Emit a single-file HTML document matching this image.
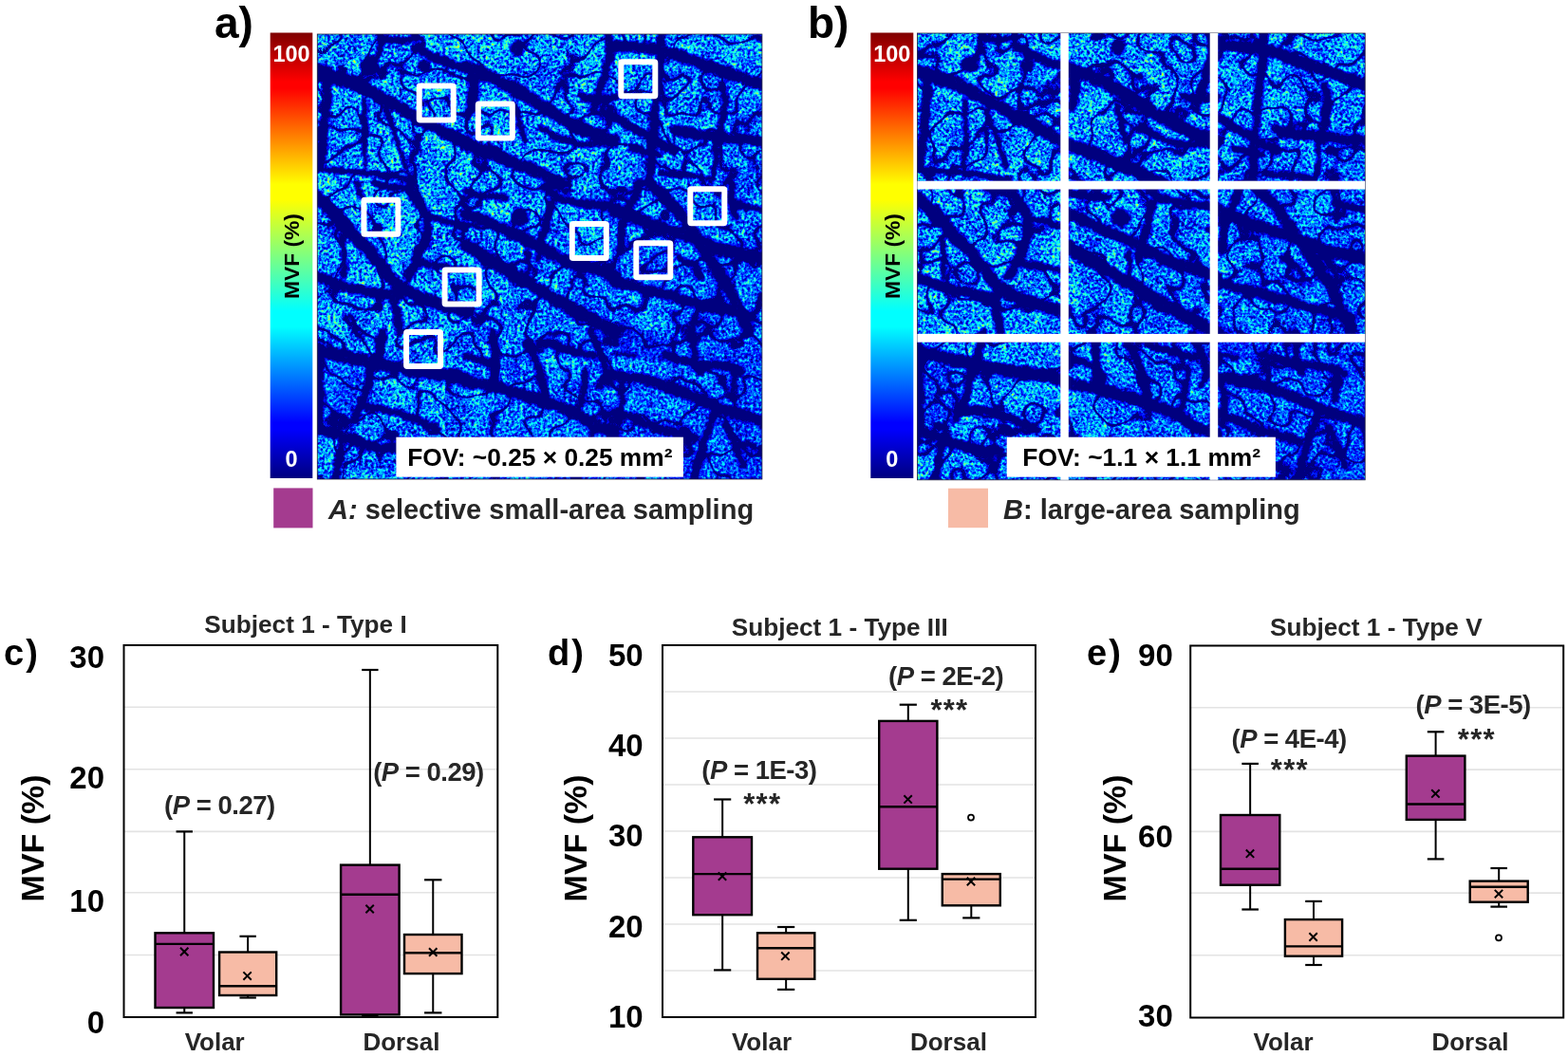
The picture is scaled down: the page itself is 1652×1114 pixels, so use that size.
<!DOCTYPE html>
<html><head><meta charset="utf-8"><title>MVF figure</title>
<style>
html,body{margin:0;padding:0;background:#fff;}
body{width:1652px;height:1114px;overflow:hidden;}
svg{display:block;}
text{font-family:"Liberation Sans",Arial,sans-serif;}
.b{font-weight:bold;}
</style></head><body>
<svg width="1652" height="1114" viewBox="0 0 1652 1114">
<defs>
<linearGradient id="jet" x1="0" y1="1" x2="0" y2="0">
<stop offset="0" stop-color="#00007f"/>
<stop offset="0.11" stop-color="#0000ff"/>
<stop offset="0.125" stop-color="#0000ff"/>
<stop offset="0.34" stop-color="#00ffff"/>
<stop offset="0.375" stop-color="#00ffff"/>
<stop offset="0.5" stop-color="#7fff7f"/>
<stop offset="0.625" stop-color="#ffff00"/>
<stop offset="0.66" stop-color="#ffff00"/>
<stop offset="0.875" stop-color="#ff0000"/>
<stop offset="0.89" stop-color="#ff0000"/>
<stop offset="1" stop-color="#7f0000"/>
</linearGradient>
</defs>
<rect width="1652" height="1114" fill="#fff"/>

<rect x="284.7" y="34.5" width="44.60000000000002" height="469.5" fill="url(#jet)"/>
<text class="b" x="307" y="64.5" font-size="23.5" fill="#fff" text-anchor="middle">100</text>
<text class="b" x="307" y="492.3" font-size="23.5" fill="#fff" text-anchor="middle">0</text>
<text class="b" font-size="22.8" fill="#000" text-anchor="middle" transform="translate(315.2,270) rotate(-90)">MVF (%)</text>
<rect x="917.3" y="34.5" width="45.0" height="469.5" fill="url(#jet)"/>
<text class="b" x="939.8" y="64.5" font-size="23.5" fill="#fff" text-anchor="middle">100</text>
<text class="b" x="939.8" y="492.3" font-size="23.5" fill="#fff" text-anchor="middle">0</text>
<text class="b" font-size="22.8" fill="#000" text-anchor="middle" transform="translate(947.8,270) rotate(-90)">MVF (%)</text>
<defs><filter id="spA" x="0" y="0" width="100%" height="100%" color-interpolation-filters="sRGB">
<feTurbulence type="fractalNoise" baseFrequency="0.08" numOctaves="2" seed="9" result="dt"/>
<feDisplacementMap in="SourceGraphic" in2="dt" scale="6" xChannelSelector="R" yChannelSelector="G" result="dm"/>
<feGaussianBlur in="dm" stdDeviation="1.8" result="bm"/>
<feGaussianBlur in="dm" stdDeviation="3.5" result="wm"/>
<feColorMatrix in="bm" type="matrix" values="-0.75 0 0 0 1  -0.75 0 0 0 1  -0.75 0 0 0 1  0 0 0 0 1" result="inv"/>
<feColorMatrix in="bm" type="matrix" values="-1 0 0 0 1  -1 0 0 0 1  -1 0 0 0 1  0 0 0 0 1" result="inv1"/>
<feColorMatrix in="wm" type="matrix" values="1 0 0 0 0  1 0 0 0 0  1 0 0 0 0  0 0 0 0 1" result="wmo"/>
<feComposite in="wmo" in2="inv1" operator="arithmetic" k1="1" k2="0" k3="0" k4="0" result="rim"/>
<feTurbulence type="fractalNoise" baseFrequency="0.33" numOctaves="2" seed="4" result="h"/>
<feColorMatrix in="h" type="matrix" values="1 0 0 0 0  1 0 0 0 0  1 0 0 0 0  0 0 0 0 1" result="hg"/>
<feTurbulence type="fractalNoise" baseFrequency="0.03" numOctaves="2" seed="15" result="l"/>
<feColorMatrix in="l" type="matrix" values="1 0 0 0 0  1 0 0 0 0  1 0 0 0 0  0 0 0 0 1" result="lg"/>
<feComposite in="hg" in2="lg" operator="arithmetic" k1="0" k2="1" k3="0.3" k4="-0.15" result="m1"/>
<feTurbulence type="fractalNoise" baseFrequency="0.025" numOctaves="2" seed="27" result="r"/>
<feColorMatrix in="r" type="matrix" values="1 0 0 0 0  1 0 0 0 0  1 0 0 0 0  0 0 0 0 1" result="rg"/>
<feComponentTransfer in="rg" result="ridge"><feFuncR type="table" tableValues="1 1 1 1 1 1 1 1 1 1 1 1 1 1 1 1 1 1 1 1 1 1 1 1 1 1 1 1 1 1 0.8 0.4 0.1 0.4 0.8 1 1 1 1 1 1 1 1 1 1 1 1 1 1 1 1 1 1 1 1 1 1 1 1 1 1 1 1 1 1"/><feFuncG type="table" tableValues="1 1 1 1 1 1 1 1 1 1 1 1 1 1 1 1 1 1 1 1 1 1 1 1 1 1 1 1 1 1 0.8 0.4 0.1 0.4 0.8 1 1 1 1 1 1 1 1 1 1 1 1 1 1 1 1 1 1 1 1 1 1 1 1 1 1 1 1 1 1"/><feFuncB type="table" tableValues="1 1 1 1 1 1 1 1 1 1 1 1 1 1 1 1 1 1 1 1 1 1 1 1 1 1 1 1 1 1 0.8 0.4 0.1 0.4 0.8 1 1 1 1 1 1 1 1 1 1 1 1 1 1 1 1 1 1 1 1 1 1 1 1 1 1 1 1 1 1"/><feFuncA type="linear" slope="0" intercept="1"/></feComponentTransfer>
<feComposite in="m1" in2="ridge" operator="arithmetic" k1="1" k2="0" k3="0" k4="0" result="m1d"/>
<feTurbulence type="fractalNoise" baseFrequency="0.06" numOctaves="2" seed="35" result="an"/>
<feColorMatrix in="an" type="matrix" values="1 0 0 0 0  1 0 0 0 0  1 0 0 0 0  0 0 0 0 1" result="ang"/>
<feComponentTransfer in="ang" result="arc"><feFuncR type="table" tableValues="0 0 0 0 0 0 0 0 0 0 0 0 0 0 0 0 0 0 0 0 0 0 0 0 0 0 0 0 0 0 0.3 0.8 1 0.8 0.3 0 0 0 0 0 0 0 0 0 0 0 0 0 0 0 0 0 0 0 0 0 0 0 0 0 0 0 0 0 0"/><feFuncG type="table" tableValues="0 0 0 0 0 0 0 0 0 0 0 0 0 0 0 0 0 0 0 0 0 0 0 0 0 0 0 0 0 0 0.3 0.8 1 0.8 0.3 0 0 0 0 0 0 0 0 0 0 0 0 0 0 0 0 0 0 0 0 0 0 0 0 0 0 0 0 0 0"/><feFuncB type="table" tableValues="0 0 0 0 0 0 0 0 0 0 0 0 0 0 0 0 0 0 0 0 0 0 0 0 0 0 0 0 0 0 0.3 0.8 1 0.8 0.3 0 0 0 0 0 0 0 0 0 0 0 0 0 0 0 0 0 0 0 0 0 0 0 0 0 0 0 0 0 0"/><feFuncA type="linear" slope="0" intercept="1"/></feComponentTransfer>
<feComposite in="m1d" in2="arc" operator="arithmetic" k1="0" k2="1" k3="0.14" k4="0" result="m1e"/>
<feComposite in="m1e" in2="rim" operator="arithmetic" k1="0" k2="1" k3="0.15" k4="0" result="m1r"/>
<feComposite in="m1r" in2="inv" operator="arithmetic" k1="1" k2="0" k3="0" k4="0" result="m2"/>
<feComponentTransfer in="m2">
<feFuncR type="table" tableValues="0 0 0 0 0 0 0 0 0 0 0 0 0 0 0 0 0 0 0 0 0 0 0 0 0 0 0 0 0 0 0 0 0 0 0 0 0 0 0 0 0 0 0 0.01 0.06 0.11 0.16 0.21 0.26 0.31 0.36 0.41 0.46 0.51 0.56 0.61 0.66 0.71 0.76 0.81 0.86 0.91 0.96 1 1"/>
<feFuncG type="table" tableValues="0 0 0 0 0 0 0 0 0 0 0 0 0 0 0 0 0 0 0 0 0 0 0 0.01 0.06 0.11 0.16 0.21 0.26 0.31 0.36 0.41 0.46 0.51 0.56 0.61 0.66 0.71 0.76 0.81 0.86 0.91 0.96 1 1 1 1 1 1 1 1 1 1 1 1 1 1 1 1 1 1 1 1 0.99 0.94"/>
<feFuncB type="table" tableValues="0.5 0.5 0.5 0.5 0.5 0.5 0.5 0.5 0.5 0.5 0.5 0.5 0.5 0.51 0.56 0.61 0.66 0.71 0.76 0.81 0.86 0.91 0.96 1 1 1 1 1 1 1 1 1 1 1 1 1 1 1 1 1 1 1 1 0.99 0.94 0.89 0.84 0.79 0.74 0.69 0.64 0.59 0.54 0.49 0.44 0.39 0.34 0.29 0.24 0.19 0.14 0.09 0.04 0 0"/>
<feFuncA type="linear" slope="0" intercept="1"/>
</feComponentTransfer>
</filter><filter id="spB" x="0" y="0" width="100%" height="100%" color-interpolation-filters="sRGB">
<feTurbulence type="fractalNoise" baseFrequency="0.08" numOctaves="2" seed="26" result="dt"/>
<feDisplacementMap in="SourceGraphic" in2="dt" scale="6" xChannelSelector="R" yChannelSelector="G" result="dm"/>
<feGaussianBlur in="dm" stdDeviation="1.8" result="bm"/>
<feGaussianBlur in="dm" stdDeviation="3.5" result="wm"/>
<feColorMatrix in="bm" type="matrix" values="-0.75 0 0 0 1  -0.75 0 0 0 1  -0.75 0 0 0 1  0 0 0 0 1" result="inv"/>
<feColorMatrix in="bm" type="matrix" values="-1 0 0 0 1  -1 0 0 0 1  -1 0 0 0 1  0 0 0 0 1" result="inv1"/>
<feColorMatrix in="wm" type="matrix" values="1 0 0 0 0  1 0 0 0 0  1 0 0 0 0  0 0 0 0 1" result="wmo"/>
<feComposite in="wmo" in2="inv1" operator="arithmetic" k1="1" k2="0" k3="0" k4="0" result="rim"/>
<feTurbulence type="fractalNoise" baseFrequency="0.33" numOctaves="2" seed="21" result="h"/>
<feColorMatrix in="h" type="matrix" values="1 0 0 0 0  1 0 0 0 0  1 0 0 0 0  0 0 0 0 1" result="hg"/>
<feTurbulence type="fractalNoise" baseFrequency="0.03" numOctaves="2" seed="32" result="l"/>
<feColorMatrix in="l" type="matrix" values="1 0 0 0 0  1 0 0 0 0  1 0 0 0 0  0 0 0 0 1" result="lg"/>
<feComposite in="hg" in2="lg" operator="arithmetic" k1="0" k2="1" k3="0.3" k4="-0.15" result="m1"/>
<feTurbulence type="fractalNoise" baseFrequency="0.025" numOctaves="2" seed="44" result="r"/>
<feColorMatrix in="r" type="matrix" values="1 0 0 0 0  1 0 0 0 0  1 0 0 0 0  0 0 0 0 1" result="rg"/>
<feComponentTransfer in="rg" result="ridge"><feFuncR type="table" tableValues="1 1 1 1 1 1 1 1 1 1 1 1 1 1 1 1 1 1 1 1 1 1 1 1 1 1 1 1 1 1 0.8 0.4 0.1 0.4 0.8 1 1 1 1 1 1 1 1 1 1 1 1 1 1 1 1 1 1 1 1 1 1 1 1 1 1 1 1 1 1"/><feFuncG type="table" tableValues="1 1 1 1 1 1 1 1 1 1 1 1 1 1 1 1 1 1 1 1 1 1 1 1 1 1 1 1 1 1 0.8 0.4 0.1 0.4 0.8 1 1 1 1 1 1 1 1 1 1 1 1 1 1 1 1 1 1 1 1 1 1 1 1 1 1 1 1 1 1"/><feFuncB type="table" tableValues="1 1 1 1 1 1 1 1 1 1 1 1 1 1 1 1 1 1 1 1 1 1 1 1 1 1 1 1 1 1 0.8 0.4 0.1 0.4 0.8 1 1 1 1 1 1 1 1 1 1 1 1 1 1 1 1 1 1 1 1 1 1 1 1 1 1 1 1 1 1"/><feFuncA type="linear" slope="0" intercept="1"/></feComponentTransfer>
<feComposite in="m1" in2="ridge" operator="arithmetic" k1="1" k2="0" k3="0" k4="0" result="m1d"/>
<feTurbulence type="fractalNoise" baseFrequency="0.06" numOctaves="2" seed="52" result="an"/>
<feColorMatrix in="an" type="matrix" values="1 0 0 0 0  1 0 0 0 0  1 0 0 0 0  0 0 0 0 1" result="ang"/>
<feComponentTransfer in="ang" result="arc"><feFuncR type="table" tableValues="0 0 0 0 0 0 0 0 0 0 0 0 0 0 0 0 0 0 0 0 0 0 0 0 0 0 0 0 0 0 0.3 0.8 1 0.8 0.3 0 0 0 0 0 0 0 0 0 0 0 0 0 0 0 0 0 0 0 0 0 0 0 0 0 0 0 0 0 0"/><feFuncG type="table" tableValues="0 0 0 0 0 0 0 0 0 0 0 0 0 0 0 0 0 0 0 0 0 0 0 0 0 0 0 0 0 0 0.3 0.8 1 0.8 0.3 0 0 0 0 0 0 0 0 0 0 0 0 0 0 0 0 0 0 0 0 0 0 0 0 0 0 0 0 0 0"/><feFuncB type="table" tableValues="0 0 0 0 0 0 0 0 0 0 0 0 0 0 0 0 0 0 0 0 0 0 0 0 0 0 0 0 0 0 0.3 0.8 1 0.8 0.3 0 0 0 0 0 0 0 0 0 0 0 0 0 0 0 0 0 0 0 0 0 0 0 0 0 0 0 0 0 0"/><feFuncA type="linear" slope="0" intercept="1"/></feComponentTransfer>
<feComposite in="m1d" in2="arc" operator="arithmetic" k1="0" k2="1" k3="0.14" k4="0" result="m1e"/>
<feComposite in="m1e" in2="rim" operator="arithmetic" k1="0" k2="1" k3="0.15" k4="0" result="m1r"/>
<feComposite in="m1r" in2="inv" operator="arithmetic" k1="1" k2="0" k3="0" k4="0" result="m2"/>
<feComponentTransfer in="m2">
<feFuncR type="table" tableValues="0 0 0 0 0 0 0 0 0 0 0 0 0 0 0 0 0 0 0 0 0 0 0 0 0 0 0 0 0 0 0 0 0 0 0 0 0 0 0 0 0 0 0 0.01 0.06 0.11 0.16 0.21 0.26 0.31 0.36 0.41 0.46 0.51 0.56 0.61 0.66 0.71 0.76 0.81 0.86 0.91 0.96 1 1"/>
<feFuncG type="table" tableValues="0 0 0 0 0 0 0 0 0 0 0 0 0 0 0 0 0 0 0 0 0 0 0 0.01 0.06 0.11 0.16 0.21 0.26 0.31 0.36 0.41 0.46 0.51 0.56 0.61 0.66 0.71 0.76 0.81 0.86 0.91 0.96 1 1 1 1 1 1 1 1 1 1 1 1 1 1 1 1 1 1 1 1 0.99 0.94"/>
<feFuncB type="table" tableValues="0.5 0.5 0.5 0.5 0.5 0.5 0.5 0.5 0.5 0.5 0.5 0.5 0.5 0.51 0.56 0.61 0.66 0.71 0.76 0.81 0.86 0.91 0.96 1 1 1 1 1 1 1 1 1 1 1 1 1 1 1 1 1 1 1 1 0.99 0.94 0.89 0.84 0.79 0.74 0.69 0.64 0.59 0.54 0.49 0.44 0.39 0.34 0.29 0.24 0.19 0.14 0.09 0.04 0 0"/>
<feFuncA type="linear" slope="0" intercept="1"/>
</feComponentTransfer>
</filter><linearGradient id="dimgrad" x1="0" y1="0" x2="1" y2="1"><stop offset="0" stop-color="#000"/><stop offset="0.35" stop-color="#000"/><stop offset="1" stop-color="#555"/></linearGradient></defs>
<clipPath id="clA"><rect x="334.3" y="36" width="468.6" height="469"/></clipPath>
<g clip-path="url(#clA)"><g filter="url(#spA)">
<rect x="334.3" y="36" width="468.6" height="469" fill="#000"/>
<g transform="translate(334.3,36)">
<rect x="0" y="0" width="468.6" height="469" fill="url(#dimgrad)"/>
<ellipse cx="335.0" cy="325.0" rx="48.0" ry="15.0" transform="rotate(22 335.0 325.0)" fill="rgb(102,102,102)"/>
<ellipse cx="26.0" cy="380.0" rx="22.0" ry="36.0" transform="rotate(0 26.0 380.0)" fill="rgb(76,76,76)"/>
<g fill="none" stroke="#fff" stroke-linecap="round" stroke-linejoin="round">
<polyline points="0.0,39.4 21.1,46.5 42.3,53.5 59.2,62.0" stroke-width="15.5"/>
<polyline points="59.2,62.0 73.2,70.4 90.1,78.9 107.0,90.1 126.8,98.6 140.8,107.0 156.9,115.5" stroke-width="13.2"/>
<polyline points="11.3,46.5 9.9,70.4 7.0,98.6 4.2,126.8 2.8,140.8" stroke-width="10.1"/>
<polyline points="49.3,70.4 50.7,98.6 49.3,140.8" stroke-width="5.4"/>
<polyline points="73.2,80.3 84.5,112.7 93.0,140.8" stroke-width="5.4"/>
<polyline points="0.0,142.3 42.3,145.8 70.4,149.3 98.6,153.5" stroke-width="6.2"/>
<polyline points="66.2,0.0 65.5,21.1 60.6,28.2" stroke-width="6.2"/>
<polyline points="70.4,5.6 87.3,7.0 104.2,4.2" stroke-width="7.0"/>
<polyline points="104.2,14.1 122.5,23.9 140.8,31.0 156.9,36.6" stroke-width="10.1"/>
<polyline points="156.7,35.2 184.8,46.5 213.0,60.6 241.2,78.9 269.3,95.8 297.5,107.0 313.6,112.7" stroke-width="13.9"/>
<polyline points="156.7,115.5 184.8,126.8 213.0,138.0 241.2,149.3 255.3,156.9" stroke-width="13.9"/>
<polyline points="163.7,35.2 165.1,56.3 162.3,78.9" stroke-width="10.8"/>
<polyline points="208.8,73.2 213.0,93.0 218.6,112.7" stroke-width="6.2"/>
<polyline points="306.0,0.0 308.8,21.1 303.1,42.3 296.1,63.4 291.9,78.9" stroke-width="9.3"/>
<polyline points="279.2,66.2 297.5,69.0 313.6,66.2" stroke-width="9.3"/>
<polyline points="235.5,98.6 255.3,109.9 276.4,116.9 297.5,115.5 313.6,115.5" stroke-width="7.7"/>
<polyline points="313.3,12.7 341.5,14.1 359.8,15.5 383.8,23.9 411.9,33.8 440.1,43.7 470.2,53.5" stroke-width="12.4"/>
<polyline points="362.6,0.0 361.2,28.2 358.4,56.3 355.6,84.5 352.8,112.7 351.4,140.8 349.9,156.9" stroke-width="9.3"/>
<polyline points="313.3,87.3 341.5,104.2 359.8,114.1 376.7,123.9" stroke-width="9.3"/>
<polyline points="376.7,101.4 397.8,105.6 411.9,107.0 433.0,109.9 454.2,111.3 470.2,112.7" stroke-width="10.8"/>
<polyline points="426.0,53.5 430.2,70.4 426.0,91.5 423.2,112.7" stroke-width="8.5"/>
<polyline points="419.0,112.7 420.4,126.8 416.1,156.9" stroke-width="5.4"/>
<polyline points="362.6,146.5 383.8,147.9 411.9,152.1" stroke-width="7.0"/>
<polyline points="331.6,121.1 359.8,126.8" stroke-width="7.7"/>
<polyline points="0.0,170.8 21.1,191.9 39.4,213.0 56.3,229.9 70.4,248.2 84.5,265.1 98.6,273.6 112.7,279.2 133.8,286.2 156.9,291.9" stroke-width="13.9"/>
<polyline points="0.0,255.3 21.1,263.7 42.3,269.3 63.4,273.6 84.5,276.4" stroke-width="10.8"/>
<polyline points="42.3,156.7 46.5,170.8" stroke-width="7.0"/>
<polyline points="60.6,156.7 77.5,162.3 98.6,160.9" stroke-width="7.0"/>
<polyline points="98.6,163.7 115.5,191.9 115.5,213.0 105.6,235.5 95.8,255.3" stroke-width="10.8"/>
<polyline points="116.9,193.3 133.8,196.1 156.9,203.1" stroke-width="7.0"/>
<polyline points="102.8,239.8 126.8,244.0 140.8,246.8 156.9,246.8" stroke-width="7.7"/>
<polyline points="26.8,213.0 28.2,234.1 28.2,255.3" stroke-width="6.2"/>
<polyline points="78.9,273.6 84.5,297.5 87.3,313.6" stroke-width="9.3"/>
<polyline points="156.7,189.1 177.8,197.5 198.9,207.4 220.1,217.2 235.5,224.3 255.3,235.5 269.3,241.2 290.5,246.8 313.6,255.3" stroke-width="12.4"/>
<polyline points="156.7,222.9 177.8,235.5 198.9,248.2 220.1,260.9 241.2,273.6 262.3,286.2 283.4,297.5 304.6,308.8 313.6,313.6" stroke-width="13.9"/>
<polyline points="156.7,166.5 177.8,170.8 198.9,172.2" stroke-width="7.7"/>
<polyline points="241.2,162.3 255.3,173.6 283.4,179.2 313.6,182.0" stroke-width="9.3"/>
<polyline points="246.8,177.8 241.2,198.9 235.5,220.1 232.7,235.5" stroke-width="9.3"/>
<polyline points="221.5,229.9 222.9,248.2 220.1,262.3" stroke-width="6.2"/>
<polyline points="348.5,156.7 362.3,167.7 377.3,183.7 390.4,201.7 404.3,221.6 418.3,244.7 433.0,266.5 442.9,286.2 451.4,304.6 454.2,313.6" stroke-width="12.4"/>
<polyline points="313.3,186.2 341.5,196.1 369.7,206.0 400.7,217.2 426.0,227.1 454.2,232.7 470.2,235.5" stroke-width="12.4"/>
<polyline points="338.7,156.7 334.5,170.8 327.4,184.8 321.8,198.9 319.0,227.1" stroke-width="9.3"/>
<polyline points="313.3,260.9 341.5,267.9 369.7,275.0 397.8,283.4 426.0,290.5 454.2,297.5" stroke-width="10.8"/>
<polyline points="380.9,235.5 397.8,244.0 403.5,255.3" stroke-width="7.0"/>
<polyline points="435.9,156.7 437.3,177.8 440.1,191.9" stroke-width="7.7"/>
<polyline points="435.9,177.8 454.2,182.0 470.2,184.8" stroke-width="7.7"/>
<polyline points="0.0,334.5 21.1,337.3 42.3,342.9 63.4,347.1 77.5,349.9 98.6,354.2 119.7,357.0 140.8,359.8 156.9,364.0" stroke-width="13.9"/>
<polyline points="69.0,313.3 64.8,334.5 56.3,355.6 52.1,376.7 46.5,390.8 39.4,404.9" stroke-width="9.3"/>
<polyline points="0.0,414.7 14.1,420.4 28.2,424.6 42.3,430.2 63.4,435.9 84.5,437.3" stroke-width="10.8"/>
<polyline points="46.5,393.6 70.4,395.0 98.6,403.5 126.8,416.1" stroke-width="8.5"/>
<polyline points="26.8,423.2 23.9,440.1 21.1,454.2 19.7,470.2" stroke-width="9.3"/>
<polyline points="2.8,327.4 2.8,369.7 2.8,419.0" stroke-width="7.7"/>
<polyline points="156.7,366.9 177.8,369.7 198.9,375.3 220.1,380.9 241.2,388.0 262.3,395.0 276.4,402.1 290.5,411.9 304.6,417.6 313.6,420.4" stroke-width="12.4"/>
<polyline points="184.8,313.3 187.7,341.5 186.2,369.7" stroke-width="9.3"/>
<polyline points="156.7,338.7 184.8,348.5" stroke-width="7.7"/>
<polyline points="220.1,324.6 229.9,341.5 235.5,359.8 241.2,380.9" stroke-width="9.3"/>
<polyline points="238.4,324.6 269.3,334.5 290.5,338.7" stroke-width="7.7"/>
<polyline points="287.7,313.3 297.5,334.5 304.6,355.6 297.5,369.7" stroke-width="7.7"/>
<polyline points="283.4,355.6 280.6,376.7 276.4,392.2" stroke-width="7.0"/>
<polyline points="313.3,359.8 341.5,362.6 369.7,372.5 390.8,379.5 411.9,389.4 433.0,397.8 454.2,403.5 470.2,409.1" stroke-width="11.6"/>
<polyline points="313.3,335.9 334.5,340.1" stroke-width="4.6"/>
<polyline points="395.0,313.3 397.8,341.5 403.5,355.6" stroke-width="7.7"/>
<polyline points="433.0,348.5 440.1,362.6 437.3,383.8" stroke-width="7.0"/>
<polyline points="313.3,397.8 334.5,404.9 355.6,414.7 376.7,420.4 397.8,426.0" stroke-width="9.3"/>
<polyline points="417.6,400.7 409.1,426.0 400.7,454.2 396.4,470.2" stroke-width="8.5"/>
<polyline points="430.2,411.9 440.1,433.0 448.5,454.2" stroke-width="7.0"/>
<polyline points="366.9,338.7 397.8,347.1 426.0,348.5 447.1,355.6" stroke-width="9.3"/>
<polyline points="319.0,366.9 321.8,386.6 319.0,409.1" stroke-width="7.7"/>
</g><g fill="#fff">
<circle cx="54.9" cy="32.4" r="9.2"/>
<circle cx="114.1" cy="33.8" r="7.0"/>
<circle cx="210.2" cy="15.5" r="7.7"/>
<circle cx="213.0" cy="193.3" r="9.9"/>
</g></g></g></g>
<clipPath id="clB"><rect x="966.4" y="35" width="471.8" height="470.8"/></clipPath>
<g clip-path="url(#clB)"><g filter="url(#spB)">
<rect x="966.4" y="35" width="471.8" height="470.8" fill="#000"/>
<g transform="translate(966.4,35)">
<rect x="0" y="0" width="471.8" height="470.8" fill="url(#dimgrad)"/>
<ellipse cx="337.3" cy="327.2" rx="48.3" ry="15.1" transform="rotate(22 337.3 327.2)" fill="rgb(102,102,102)"/>
<ellipse cx="26.2" cy="382.6" rx="22.2" ry="36.2" transform="rotate(0 26.2 382.6)" fill="rgb(76,76,76)"/>
<g fill="none" stroke="#fff" stroke-linecap="round" stroke-linejoin="round">
<polyline points="0.0,39.7 21.3,46.8 42.5,53.9 59.6,62.4" stroke-width="15.6"/>
<polyline points="59.6,62.4 73.7,70.9 90.8,79.4 107.8,90.8 127.6,99.3 141.8,107.8 158.0,116.3" stroke-width="13.3"/>
<polyline points="11.3,46.8 9.9,70.9 7.1,99.3 4.3,127.6 2.8,141.8" stroke-width="10.1"/>
<polyline points="49.6,70.9 51.1,99.3 49.6,141.8" stroke-width="5.5"/>
<polyline points="73.7,80.8 85.1,113.4 93.6,141.8" stroke-width="5.5"/>
<polyline points="0.0,143.2 42.5,146.8 70.9,150.3 99.3,154.6" stroke-width="6.2"/>
<polyline points="66.6,0.0 65.9,21.3 61.0,28.4" stroke-width="6.2"/>
<polyline points="70.9,5.7 87.9,7.1 104.9,4.3" stroke-width="7.0"/>
<polyline points="104.9,14.2 123.4,24.1 141.8,31.2 158.0,36.9" stroke-width="10.1"/>
<polyline points="157.7,35.5 186.1,46.8 214.5,61.0 242.8,79.4 271.2,96.4 299.5,107.8 315.7,113.4" stroke-width="14.0"/>
<polyline points="157.7,116.3 186.1,127.6 214.5,139.0 242.8,150.3 257.0,158.0" stroke-width="14.0"/>
<polyline points="164.8,35.5 166.2,56.7 163.4,79.4" stroke-width="10.9"/>
<polyline points="210.2,73.7 214.5,93.6 220.1,113.4" stroke-width="6.2"/>
<polyline points="308.1,0.0 310.9,21.3 305.2,42.5 298.1,63.8 293.9,79.4" stroke-width="9.4"/>
<polyline points="281.1,66.6 299.5,69.5 315.7,66.6" stroke-width="9.4"/>
<polyline points="237.2,99.3 257.0,110.6 278.3,117.7 299.5,116.3 315.7,116.3" stroke-width="7.8"/>
<polyline points="315.5,12.8 343.8,14.2 362.3,15.6 386.4,24.1 414.7,34.0 443.1,44.0 473.4,53.9" stroke-width="12.5"/>
<polyline points="365.1,0.0 363.7,28.4 360.8,56.7 358.0,85.1 355.2,113.4 353.8,141.8 352.3,158.0" stroke-width="9.4"/>
<polyline points="315.5,87.9 343.8,104.9 362.3,114.9 379.3,124.8" stroke-width="9.4"/>
<polyline points="379.3,102.1 400.6,106.4 414.7,107.8 436.0,110.6 457.3,112.0 473.4,113.4" stroke-width="10.9"/>
<polyline points="428.9,53.9 433.2,70.9 428.9,92.2 426.1,113.4" stroke-width="8.6"/>
<polyline points="421.8,113.4 423.2,127.6 419.0,158.0" stroke-width="5.5"/>
<polyline points="365.1,147.5 386.4,148.9 414.7,153.2" stroke-width="7.0"/>
<polyline points="333.9,122.0 362.3,127.6" stroke-width="7.8"/>
<polyline points="0.0,171.9 21.3,193.2 39.7,214.5 56.7,231.5 70.9,249.9 85.1,266.9 99.3,275.4 113.4,281.1 134.7,288.2 158.0,293.9" stroke-width="14.0"/>
<polyline points="0.0,257.0 21.3,265.5 42.5,271.2 63.8,275.4 85.1,278.3" stroke-width="10.9"/>
<polyline points="42.5,157.7 46.8,171.9" stroke-width="7.0"/>
<polyline points="61.0,157.7 78.0,163.4 99.3,162.0" stroke-width="7.0"/>
<polyline points="99.3,164.8 116.3,193.2 116.3,214.5 106.4,237.2 96.4,257.0" stroke-width="10.9"/>
<polyline points="117.7,194.6 134.7,197.4 158.0,204.5" stroke-width="7.0"/>
<polyline points="103.5,241.4 127.6,245.7 141.8,248.5 158.0,248.5" stroke-width="7.8"/>
<polyline points="26.9,214.5 28.4,235.7 28.4,257.0" stroke-width="6.2"/>
<polyline points="79.4,275.4 85.1,299.5 87.9,315.7" stroke-width="9.4"/>
<polyline points="157.7,190.4 179.0,198.9 200.3,208.8 221.6,218.7 237.2,225.8 257.0,237.2 271.2,242.8 292.5,248.5 315.7,257.0" stroke-width="12.5"/>
<polyline points="157.7,224.4 179.0,237.2 200.3,249.9 221.6,262.7 242.8,275.4 264.1,288.2 285.4,299.5 306.6,310.9 315.7,315.7" stroke-width="14.0"/>
<polyline points="157.7,167.7 179.0,171.9 200.3,173.3" stroke-width="7.8"/>
<polyline points="242.8,163.4 257.0,174.8 285.4,180.4 315.7,183.3" stroke-width="9.4"/>
<polyline points="248.5,179.0 242.8,200.3 237.2,221.6 234.3,237.2" stroke-width="9.4"/>
<polyline points="223.0,231.5 224.4,249.9 221.6,264.1" stroke-width="6.2"/>
<polyline points="350.9,157.7 364.8,168.8 379.9,185.0 393.0,203.1 407.1,223.1 421.1,246.4 436.0,268.3 445.9,288.2 454.4,306.6 457.3,315.7" stroke-width="12.5"/>
<polyline points="315.5,187.5 343.8,197.4 372.2,207.4 403.4,218.7 428.9,228.6 457.3,234.3 473.4,237.2" stroke-width="12.5"/>
<polyline points="341.0,157.7 336.7,171.9 329.7,186.1 324.0,200.3 321.1,228.6" stroke-width="9.4"/>
<polyline points="315.5,262.7 343.8,269.8 372.2,276.9 400.6,285.4 428.9,292.5 457.3,299.5" stroke-width="10.9"/>
<polyline points="383.5,237.2 400.6,245.7 406.2,257.0" stroke-width="7.0"/>
<polyline points="438.8,157.7 440.3,179.0 443.1,193.2" stroke-width="7.8"/>
<polyline points="438.8,179.0 457.3,183.3 473.4,186.1" stroke-width="7.8"/>
<polyline points="0.0,336.7 21.3,339.6 42.5,345.2 63.8,349.5 78.0,352.3 99.3,356.6 120.5,359.4 141.8,362.3 158.0,366.5" stroke-width="14.0"/>
<polyline points="69.5,315.5 65.2,336.7 56.7,358.0 52.5,379.3 46.8,393.5 39.7,407.6" stroke-width="9.4"/>
<polyline points="0.0,417.6 14.2,423.2 28.4,427.5 42.5,433.2 63.8,438.8 85.1,440.3" stroke-width="10.9"/>
<polyline points="46.8,396.3 70.9,397.7 99.3,406.2 127.6,419.0" stroke-width="8.6"/>
<polyline points="26.9,426.1 24.1,443.1 21.3,457.3 19.9,473.4" stroke-width="9.4"/>
<polyline points="2.8,329.7 2.8,372.2 2.8,421.8" stroke-width="7.8"/>
<polyline points="157.7,369.4 179.0,372.2 200.3,377.9 221.6,383.5 242.8,390.6 264.1,397.7 278.3,404.8 292.5,414.7 306.6,420.4 315.7,423.2" stroke-width="12.5"/>
<polyline points="186.1,315.5 188.9,343.8 187.5,372.2" stroke-width="9.4"/>
<polyline points="157.7,341.0 186.1,350.9" stroke-width="7.8"/>
<polyline points="221.6,326.8 231.5,343.8 237.2,362.3 242.8,383.5" stroke-width="9.4"/>
<polyline points="240.0,326.8 271.2,336.7 292.5,341.0" stroke-width="7.8"/>
<polyline points="289.6,315.5 299.5,336.7 306.6,358.0 299.5,372.2" stroke-width="7.8"/>
<polyline points="285.4,358.0 282.5,379.3 278.3,394.9" stroke-width="7.0"/>
<polyline points="315.5,362.3 343.8,365.1 372.2,375.0 393.5,382.1 414.7,392.0 436.0,400.6 457.3,406.2 473.4,411.9" stroke-width="11.7"/>
<polyline points="315.5,338.2 336.7,342.4" stroke-width="4.7"/>
<polyline points="397.7,315.5 400.6,343.8 406.2,358.0" stroke-width="7.8"/>
<polyline points="436.0,350.9 443.1,365.1 440.3,386.4" stroke-width="7.0"/>
<polyline points="315.5,400.6 336.7,407.6 358.0,417.6 379.3,423.2 400.6,428.9" stroke-width="9.4"/>
<polyline points="420.4,403.4 411.9,428.9 403.4,457.3 399.1,473.4" stroke-width="8.6"/>
<polyline points="433.2,414.7 443.1,436.0 451.6,457.3" stroke-width="7.0"/>
<polyline points="369.4,341.0 400.6,349.5 428.9,350.9 450.2,358.0" stroke-width="9.4"/>
<polyline points="321.1,369.4 324.0,389.2 321.1,411.9" stroke-width="7.8"/>
</g><g fill="#fff">
<circle cx="55.3" cy="32.6" r="9.2"/>
<circle cx="114.9" cy="34.0" r="7.1"/>
<circle cx="211.6" cy="15.6" r="7.8"/>
<circle cx="214.5" cy="194.6" r="9.9"/>
</g></g></g></g>
<rect x="334.3" y="36" width="468.6" height="469" fill="none" stroke="#1a1a3a" stroke-width="0.8"/>
<rect x="966.4" y="35" width="471.8" height="470.8" fill="none" stroke="#1a1a3a" stroke-width="0.8"/>
<rect x="441.7" y="90.6" width="36" height="36" rx="1" fill="none" stroke="#fff" stroke-width="6" stroke-linejoin="round"/>
<rect x="503.8" y="109.5" width="36" height="36" rx="1" fill="none" stroke="#fff" stroke-width="6" stroke-linejoin="round"/>
<rect x="654.3" y="65.2" width="36" height="36" rx="1" fill="none" stroke="#fff" stroke-width="6" stroke-linejoin="round"/>
<rect x="383.4" y="210.7" width="36" height="36" rx="1" fill="none" stroke="#fff" stroke-width="6" stroke-linejoin="round"/>
<rect x="727.3" y="199.3" width="36" height="36" rx="1" fill="none" stroke="#fff" stroke-width="6" stroke-linejoin="round"/>
<rect x="602.8" y="236.0" width="36" height="36" rx="1" fill="none" stroke="#fff" stroke-width="6" stroke-linejoin="round"/>
<rect x="670.3" y="256.3" width="36" height="36" rx="1" fill="none" stroke="#fff" stroke-width="6" stroke-linejoin="round"/>
<rect x="468.6" y="284.6" width="36" height="36" rx="1" fill="none" stroke="#fff" stroke-width="6" stroke-linejoin="round"/>
<rect x="428.1" y="350.0" width="36" height="36" rx="1" fill="none" stroke="#fff" stroke-width="6" stroke-linejoin="round"/>
<rect x="1117.3" y="35" width="8.5" height="470.8" fill="#fff"/>
<rect x="1274.7" y="35" width="8.5" height="470.8" fill="#fff"/>
<rect x="966.4" y="190.7" width="471.8" height="8.8" fill="#fff"/>
<rect x="966.4" y="351.9" width="471.8" height="8.8" fill="#fff"/>
<text class="b" x="226" y="40" font-size="46" fill="#000">a)</text>
<text class="b" x="851" y="40" font-size="46" fill="#000">b)</text>
<rect x="417.4" y="460.7" width="302.5" height="42" fill="#fff"/>
<text class="b" x="568.8" y="491.1" font-size="26.3" fill="#000" text-anchor="middle">FOV: ~0.25 × 0.25 mm²</text>
<rect x="1060.7" y="460.7" width="283.2" height="42" fill="#fff"/>
<text class="b" x="1202.7" y="491.1" font-size="26.4" fill="#000" text-anchor="middle">FOV: ~1.1 × 1.1 mm²</text>
<rect x="288.2" y="514.4" width="41.3" height="42" fill="#a43b8f"/>
<text class="b" x="346" y="547" font-size="29" fill="#262626"><tspan font-style="italic">A:</tspan> selective small-area sampling</text>
<rect x="999" y="514.7" width="42" height="41.5" fill="#f7bba6"/>
<text class="b" x="1057" y="547" font-size="29" fill="#262626"><tspan font-style="italic">B</tspan>: large-area sampling</text>
<line x1="130.5" x2="524.3" y1="745.3" y2="745.3" stroke="#e3e3e3" stroke-width="1.6"/>
<line x1="130.5" x2="524.3" y1="810.8" y2="810.8" stroke="#e3e3e3" stroke-width="1.6"/>
<line x1="130.5" x2="524.3" y1="876.4" y2="876.4" stroke="#e3e3e3" stroke-width="1.6"/>
<line x1="130.5" x2="524.3" y1="940.8" y2="940.8" stroke="#e3e3e3" stroke-width="1.6"/>
<line x1="130.5" x2="524.3" y1="1006.5" y2="1006.5" stroke="#e3e3e3" stroke-width="1.6"/>
<line x1="194.25" x2="194.25" y1="876.4" y2="983.3" stroke="#000" stroke-width="2"/>
<line x1="194.25" x2="194.25" y1="1062" y2="1067.4" stroke="#000" stroke-width="2"/>
<line x1="185.55" x2="202.95" y1="876.4" y2="876.4" stroke="#000" stroke-width="2.2"/>
<line x1="185.55" x2="202.95" y1="1067.4" y2="1067.4" stroke="#000" stroke-width="2.2"/>
<rect x="163.5" y="983.3" width="61.5" height="78.70000000000005" fill="#a43b8f" stroke="#000" stroke-width="2.4"/>
<line x1="163.5" x2="225" y1="994.9" y2="994.9" stroke="#000" stroke-width="2.4"/>
<path d="M190.0,998.8L198.39999999999998,1007.2M190.0,1007.2L198.39999999999998,998.8" stroke="#000" stroke-width="2"/>
<line x1="261.15" x2="261.15" y1="986.8" y2="1003.5" stroke="#000" stroke-width="2"/>
<line x1="261.15" x2="261.15" y1="1049" y2="1051.5" stroke="#000" stroke-width="2"/>
<line x1="252.45" x2="269.84999999999997" y1="986.8" y2="986.8" stroke="#000" stroke-width="2.2"/>
<line x1="252.45" x2="269.84999999999997" y1="1051.5" y2="1051.5" stroke="#000" stroke-width="2.2"/>
<rect x="231.1" y="1003.5" width="60.099999999999994" height="45.5" fill="#f7bba6" stroke="#000" stroke-width="2.4"/>
<line x1="231.1" x2="291.2" y1="1039.2" y2="1039.2" stroke="#000" stroke-width="2.4"/>
<path d="M256.40000000000003,1024.3999999999999L264.8,1032.8M256.40000000000003,1032.8L264.8,1024.3999999999999" stroke="#000" stroke-width="2"/>
<line x1="389.85" x2="389.85" y1="706" y2="911.6" stroke="#000" stroke-width="2"/>
<line x1="389.85" x2="389.85" y1="1069.4" y2="1071" stroke="#000" stroke-width="2"/>
<line x1="381.15000000000003" x2="398.55" y1="706" y2="706" stroke="#000" stroke-width="2.2"/>
<line x1="381.15000000000003" x2="398.55" y1="1071" y2="1071" stroke="#000" stroke-width="2.2"/>
<rect x="359.1" y="911.6" width="61.5" height="157.80000000000007" fill="#a43b8f" stroke="#000" stroke-width="2.4"/>
<line x1="359.1" x2="420.6" y1="942.8" y2="942.8" stroke="#000" stroke-width="2.4"/>
<path d="M385.40000000000003,953.8L393.8,962.2M385.40000000000003,962.2L393.8,953.8" stroke="#000" stroke-width="2"/>
<line x1="456.25" x2="456.25" y1="927.3" y2="985" stroke="#000" stroke-width="2"/>
<line x1="456.25" x2="456.25" y1="1026.1" y2="1067.4" stroke="#000" stroke-width="2"/>
<line x1="447.05" x2="465.45" y1="927.3" y2="927.3" stroke="#000" stroke-width="2.2"/>
<line x1="447.05" x2="465.45" y1="1067.4" y2="1067.4" stroke="#000" stroke-width="2.2"/>
<rect x="426" y="985" width="60.5" height="41.09999999999991" fill="#f7bba6" stroke="#000" stroke-width="2.4"/>
<line x1="426" x2="486.5" y1="1004.3" y2="1004.3" stroke="#000" stroke-width="2.4"/>
<path d="M452.0,999.3L460.4,1007.7M452.0,1007.7L460.4,999.3" stroke="#000" stroke-width="2"/>
<rect x="130.5" y="680" width="393.79999999999995" height="392" fill="none" stroke="#000" stroke-width="2"/>
<text class="b" x="322" y="667.3" font-size="26.2" fill="#262626" text-anchor="middle">Subject 1 - Type I</text>
<text class="b" x="4" y="701" font-size="38" letter-spacing="2" fill="#000">c)</text>
<text class="b" x="110" y="703.6" font-size="33" fill="#000" text-anchor="end">30</text>
<text class="b" x="110" y="830.6" font-size="33" fill="#000" text-anchor="end">20</text>
<text class="b" x="110" y="960.5" font-size="33" fill="#000" text-anchor="end">10</text>
<text class="b" x="110" y="1089" font-size="33" fill="#000" text-anchor="end">0</text>
<text class="b" font-size="34" fill="#000" text-anchor="middle" transform="translate(46.1,883.4) rotate(-90)">MVF (%)</text>
<text class="b" x="173.1" y="858.4" font-size="27.5" letter-spacing="-0.5" fill="#262626">(<tspan font-style="italic">P</tspan> = 0.27)</text>
<text class="b" x="393.2" y="822.5" font-size="27.5" letter-spacing="-0.5" fill="#262626">(<tspan font-style="italic">P</tspan> = 0.29)</text>
<text class="b" x="226.2" y="1106.8" font-size="26" fill="#262626" text-anchor="middle">Volar</text>
<text class="b" x="422.9" y="1106.8" font-size="26" fill="#262626" text-anchor="middle">Dorsal</text>
<line x1="698" x2="1091" y1="729" y2="729" stroke="#e3e3e3" stroke-width="1.6"/>
<line x1="698" x2="1091" y1="778" y2="778" stroke="#e3e3e3" stroke-width="1.6"/>
<line x1="698" x2="1091" y1="827" y2="827" stroke="#e3e3e3" stroke-width="1.6"/>
<line x1="698" x2="1091" y1="876" y2="876" stroke="#e3e3e3" stroke-width="1.6"/>
<line x1="698" x2="1091" y1="925" y2="925" stroke="#e3e3e3" stroke-width="1.6"/>
<line x1="698" x2="1091" y1="974" y2="974" stroke="#e3e3e3" stroke-width="1.6"/>
<line x1="698" x2="1091" y1="1023" y2="1023" stroke="#e3e3e3" stroke-width="1.6"/>
<line x1="761.15" x2="761.15" y1="842.5" y2="882.3" stroke="#000" stroke-width="2"/>
<line x1="761.15" x2="761.15" y1="964.2" y2="1022.4" stroke="#000" stroke-width="2"/>
<line x1="752.05" x2="770.25" y1="842.5" y2="842.5" stroke="#000" stroke-width="2.2"/>
<line x1="752.05" x2="770.25" y1="1022.4" y2="1022.4" stroke="#000" stroke-width="2.2"/>
<rect x="730.3" y="882.3" width="61.700000000000045" height="81.90000000000009" fill="#a43b8f" stroke="#000" stroke-width="2.4"/>
<line x1="730.3" x2="792" y1="921.1" y2="921.1" stroke="#000" stroke-width="2.4"/>
<path d="M756.8,919.4L765.2,927.8000000000001M756.8,927.8000000000001L765.2,919.4" stroke="#000" stroke-width="2"/>
<line x1="828.15" x2="828.15" y1="977" y2="983.3" stroke="#000" stroke-width="2"/>
<line x1="828.15" x2="828.15" y1="1031.8" y2="1042.9" stroke="#000" stroke-width="2"/>
<line x1="819.05" x2="837.25" y1="977" y2="977" stroke="#000" stroke-width="2.2"/>
<line x1="819.05" x2="837.25" y1="1042.9" y2="1042.9" stroke="#000" stroke-width="2.2"/>
<rect x="798" y="983.3" width="60.299999999999955" height="48.5" fill="#f7bba6" stroke="#000" stroke-width="2.4"/>
<line x1="798" x2="858.3" y1="999.3" y2="999.3" stroke="#000" stroke-width="2.4"/>
<path d="M823.1999999999999,1003.5L831.6,1011.9000000000001M823.1999999999999,1011.9000000000001L831.6,1003.5" stroke="#000" stroke-width="2"/>
<line x1="956.8" x2="956.8" y1="742.7" y2="759.9" stroke="#000" stroke-width="2"/>
<line x1="956.8" x2="956.8" y1="915.7" y2="969.8" stroke="#000" stroke-width="2"/>
<line x1="947.6999999999999" x2="965.9" y1="742.7" y2="742.7" stroke="#000" stroke-width="2.2"/>
<line x1="947.6999999999999" x2="965.9" y1="969.8" y2="969.8" stroke="#000" stroke-width="2.2"/>
<rect x="926.2" y="759.9" width="61.19999999999993" height="155.80000000000007" fill="#a43b8f" stroke="#000" stroke-width="2.4"/>
<line x1="926.2" x2="987.4" y1="850.2" y2="850.2" stroke="#000" stroke-width="2.4"/>
<path d="M952.4,838.1999999999999L960.8000000000001,846.6M952.4,846.6L960.8000000000001,838.1999999999999" stroke="#000" stroke-width="2"/>
<line x1="1023.3" x2="1023.3" y1="921.1" y2="921.1" stroke="#000" stroke-width="2"/>
<line x1="1023.3" x2="1023.3" y1="954.3" y2="967.4" stroke="#000" stroke-width="2"/>
<line x1="1014.1999999999999" x2="1032.3999999999999" y1="921.1" y2="921.1" stroke="#000" stroke-width="2.2"/>
<line x1="1014.1999999999999" x2="1032.3999999999999" y1="967.4" y2="967.4" stroke="#000" stroke-width="2.2"/>
<rect x="992.8" y="921.1" width="61.0" height="33.19999999999993" fill="#f7bba6" stroke="#000" stroke-width="2.4"/>
<line x1="992.8" x2="1053.8" y1="926.6" y2="926.6" stroke="#000" stroke-width="2.4"/>
<path d="M1018.8,924.8L1027.2,933.2M1018.8,933.2L1027.2,924.8" stroke="#000" stroke-width="2"/>
<rect x="698" y="680" width="393" height="392" fill="none" stroke="#000" stroke-width="2"/>
<text class="b" x="884.7" y="669.6" font-size="26.2" fill="#262626" text-anchor="middle">Subject 1 - Type III</text>
<text class="b" x="577" y="701" font-size="38" letter-spacing="2" fill="#000">d)</text>
<text class="b" x="677.6" y="702.2" font-size="33" fill="#000" text-anchor="end">50</text>
<text class="b" x="677.6" y="797.4" font-size="33" fill="#000" text-anchor="end">40</text>
<text class="b" x="677.6" y="892.1" font-size="33" fill="#000" text-anchor="end">30</text>
<text class="b" x="677.6" y="987.5" font-size="33" fill="#000" text-anchor="end">20</text>
<text class="b" x="677.6" y="1083.4" font-size="33" fill="#000" text-anchor="end">10</text>
<text class="b" font-size="34" fill="#000" text-anchor="middle" transform="translate(618,883.4) rotate(-90)">MVF (%)</text>
<text class="b" x="739.3" y="821" font-size="27.5" letter-spacing="-0.5" fill="#262626">(<tspan font-style="italic">P</tspan> = 1E-3)</text>
<text class="b" x="936.1" y="721.5" font-size="27.5" letter-spacing="-0.5" fill="#262626">(<tspan font-style="italic">P</tspan> = 2E-2)</text>
<text class="b" x="783.2" y="858.4" font-size="31" letter-spacing="1.3" fill="#262626">***</text>
<text class="b" x="980.4" y="759.2" font-size="31" letter-spacing="1.3" fill="#262626">***</text>
<text class="b" x="802.5" y="1106.8" font-size="26" fill="#262626" text-anchor="middle">Volar</text>
<text class="b" x="999.4" y="1106.8" font-size="26" fill="#262626" text-anchor="middle">Dorsal</text>
<line x1="1254.2" x2="1647.2" y1="745.8" y2="745.8" stroke="#e3e3e3" stroke-width="1.6"/>
<line x1="1254.2" x2="1647.2" y1="811.1" y2="811.1" stroke="#e3e3e3" stroke-width="1.6"/>
<line x1="1254.2" x2="1647.2" y1="876.4" y2="876.4" stroke="#e3e3e3" stroke-width="1.6"/>
<line x1="1254.2" x2="1647.2" y1="941.1" y2="941.1" stroke="#e3e3e3" stroke-width="1.6"/>
<line x1="1254.2" x2="1647.2" y1="1006.7" y2="1006.7" stroke="#e3e3e3" stroke-width="1.6"/>
<line x1="1317.15" x2="1317.15" y1="804.9" y2="859" stroke="#000" stroke-width="2"/>
<line x1="1317.15" x2="1317.15" y1="932.7" y2="958.5" stroke="#000" stroke-width="2"/>
<line x1="1308.3500000000001" x2="1325.95" y1="804.9" y2="804.9" stroke="#000" stroke-width="2.2"/>
<line x1="1308.3500000000001" x2="1325.95" y1="958.5" y2="958.5" stroke="#000" stroke-width="2.2"/>
<rect x="1286" y="859" width="62.299999999999955" height="73.70000000000005" fill="#a43b8f" stroke="#000" stroke-width="2.4"/>
<line x1="1286" x2="1348.3" y1="915.7" y2="915.7" stroke="#000" stroke-width="2.4"/>
<path d="M1312.8,895.5L1321.2,903.9000000000001M1312.8,903.9000000000001L1321.2,895.5" stroke="#000" stroke-width="2"/>
<line x1="1384.0" x2="1384.0" y1="949.9" y2="969.1" stroke="#000" stroke-width="2"/>
<line x1="1384.0" x2="1384.0" y1="1007.7" y2="1017" stroke="#000" stroke-width="2"/>
<line x1="1375.2" x2="1392.8" y1="949.9" y2="949.9" stroke="#000" stroke-width="2.2"/>
<line x1="1375.2" x2="1392.8" y1="1017" y2="1017" stroke="#000" stroke-width="2.2"/>
<rect x="1353.9" y="969.1" width="60.19999999999982" height="38.60000000000002" fill="#f7bba6" stroke="#000" stroke-width="2.4"/>
<line x1="1353.9" x2="1414.1" y1="997.4" y2="997.4" stroke="#000" stroke-width="2.4"/>
<path d="M1379.3999999999999,983.3L1387.8,991.7M1379.3999999999999,991.7L1387.8,983.3" stroke="#000" stroke-width="2"/>
<line x1="1512.6" x2="1512.6" y1="771.3" y2="796.6" stroke="#000" stroke-width="2"/>
<line x1="1512.6" x2="1512.6" y1="863.9" y2="905.4" stroke="#000" stroke-width="2"/>
<line x1="1503.8" x2="1521.3999999999999" y1="771.3" y2="771.3" stroke="#000" stroke-width="2.2"/>
<line x1="1503.8" x2="1521.3999999999999" y1="905.4" y2="905.4" stroke="#000" stroke-width="2.2"/>
<rect x="1481.8" y="796.6" width="61.600000000000136" height="67.29999999999995" fill="#a43b8f" stroke="#000" stroke-width="2.4"/>
<line x1="1481.8" x2="1543.4" y1="847.5" y2="847.5" stroke="#000" stroke-width="2.4"/>
<path d="M1508.2,832.1999999999999L1516.6000000000001,840.6M1508.2,840.6L1516.6000000000001,832.1999999999999" stroke="#000" stroke-width="2"/>
<line x1="1579.2" x2="1579.2" y1="915" y2="928.6" stroke="#000" stroke-width="2"/>
<line x1="1579.2" x2="1579.2" y1="950.7" y2="955.6" stroke="#000" stroke-width="2"/>
<line x1="1570.4" x2="1588.0" y1="915" y2="915" stroke="#000" stroke-width="2.2"/>
<line x1="1570.4" x2="1588.0" y1="955.6" y2="955.6" stroke="#000" stroke-width="2.2"/>
<rect x="1548.7" y="928.6" width="61.0" height="22.100000000000023" fill="#f7bba6" stroke="#000" stroke-width="2.4"/>
<line x1="1548.7" x2="1609.7" y1="934.7" y2="934.7" stroke="#000" stroke-width="2.4"/>
<path d="M1574.8,937.9L1583.2,946.3000000000001M1574.8,946.3000000000001L1583.2,937.9" stroke="#000" stroke-width="2"/>
<rect x="1254.2" y="680.5" width="393.0" height="392.0" fill="none" stroke="#000" stroke-width="2"/>
<text class="b" x="1449.8" y="669.6" font-size="26.2" fill="#262626" text-anchor="middle">Subject 1 - Type V</text>
<text class="b" x="1145" y="701" font-size="38" letter-spacing="2" fill="#000">e)</text>
<text class="b" x="1235.8" y="702.2" font-size="33" fill="#000" text-anchor="end">90</text>
<text class="b" x="1235.8" y="892.9" font-size="33" fill="#000" text-anchor="end">60</text>
<text class="b" x="1235.8" y="1082.2" font-size="33" fill="#000" text-anchor="end">30</text>
<text class="b" font-size="34" fill="#000" text-anchor="middle" transform="translate(1185.5,883.4) rotate(-90)">MVF (%)</text>
<text class="b" x="1297.5" y="788" font-size="27.5" letter-spacing="-0.5" fill="#262626">(<tspan font-style="italic">P</tspan> = 4E-4)</text>
<text class="b" x="1491.5" y="752" font-size="27.5" letter-spacing="-0.5" fill="#262626">(<tspan font-style="italic">P</tspan> = 3E-5)</text>
<text class="b" x="1338.8" y="822.4" font-size="31" letter-spacing="1.3" fill="#262626">***</text>
<text class="b" x="1535.8" y="789.7" font-size="31" letter-spacing="1.3" fill="#262626">***</text>
<text class="b" x="1352.1" y="1106.8" font-size="26" fill="#262626" text-anchor="middle">Volar</text>
<text class="b" x="1548.9" y="1106.8" font-size="26" fill="#262626" text-anchor="middle">Dorsal</text>
<circle cx="1023" cy="861.6" r="3" fill="none" stroke="#000" stroke-width="1.8"/>
<circle cx="1579" cy="988.3" r="3" fill="none" stroke="#000" stroke-width="1.8"/>
</svg>
</body></html>
